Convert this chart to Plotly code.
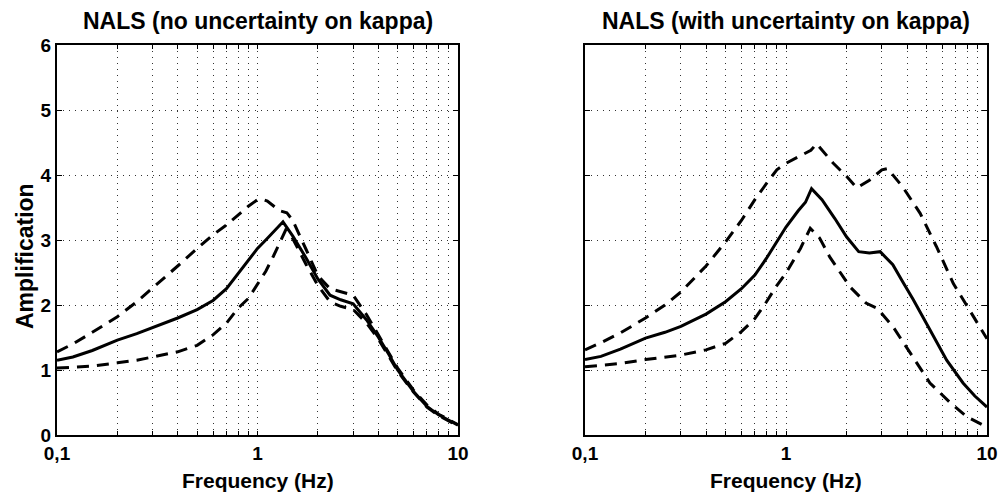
import plotly.graph_objects as go

# ---- data ----
freq_L_mid = [0.1, 0.12, 0.15, 0.2, 0.25, 0.3, 0.4, 0.5, 0.55, 0.6, 0.7, 0.8, 0.9, 1.0, 1.1, 1.2, 1.34, 1.5, 1.75, 2.0, 2.3, 2.6, 3.0, 3.5, 4.0, 4.5, 5.0, 6.0, 7.0, 8.0, 9.0, 10.0]
amp_L_mid = [1.15, 1.20, 1.30, 1.46, 1.56, 1.65, 1.80, 1.93, 2.00, 2.07, 2.25, 2.48, 2.70, 2.87, 3.00, 3.12, 3.28, 3.06, 2.72, 2.40, 2.15, 2.08, 2.02, 1.77, 1.51, 1.25, 1.00, 0.67, 0.44, 0.31, 0.22, 0.15]

freq_L_up = [0.1, 0.12, 0.15, 0.2, 0.25, 0.3, 0.4, 0.5, 0.6, 0.7, 0.8, 0.9, 1.0, 1.05, 1.12, 1.2, 1.29, 1.4, 1.5, 1.75, 2.0, 2.3, 2.6, 3.0, 3.5, 4.0, 4.5, 5.0, 6.0, 7.0, 8.0, 9.0, 10.0]
amp_L_up = [1.28, 1.40, 1.58, 1.82, 2.05, 2.26, 2.60, 2.87, 3.08, 3.23, 3.38, 3.52, 3.62, 3.63, 3.60, 3.52, 3.45, 3.42, 3.30, 2.85, 2.45, 2.25, 2.20, 2.15, 1.85, 1.55, 1.28, 1.03, 0.69, 0.46, 0.32, 0.23, 0.16]

freq_L_lo = [0.1, 0.12, 0.15, 0.2, 0.25, 0.3, 0.4, 0.5, 0.6, 0.7, 0.8, 0.9, 1.0, 1.1, 1.2, 1.3, 1.38, 1.5, 1.75, 2.0, 2.3, 2.6, 3.0, 3.5, 4.0, 4.5, 5.0, 6.0, 7.0, 8.0, 9.0, 10.0]
amp_L_lo = [1.03, 1.04, 1.06, 1.11, 1.15, 1.20, 1.28, 1.38, 1.54, 1.72, 1.95, 2.10, 2.32, 2.52, 2.75, 2.98, 3.15, 3.02, 2.62, 2.30, 2.05, 1.98, 1.93, 1.72, 1.48, 1.22, 0.98, 0.66, 0.43, 0.30, 0.21, 0.14]

freq_R_mid = [0.1, 0.12, 0.15, 0.2, 0.25, 0.3, 0.4, 0.5, 0.6, 0.7, 0.8, 0.9, 1.0, 1.15, 1.25, 1.34, 1.51, 1.75, 2.0, 2.3, 2.6, 2.94, 3.4, 3.8, 4.3, 5.2, 6.3, 7.6, 8.7, 10.0]
amp_R_mid = [1.16, 1.21, 1.32, 1.49, 1.58, 1.67, 1.86, 2.05, 2.25, 2.46, 2.72, 2.98, 3.20, 3.45, 3.58, 3.79, 3.62, 3.33, 3.05, 2.82, 2.80, 2.82, 2.62, 2.36, 2.08, 1.62, 1.15, 0.80, 0.60, 0.43]

freq_R_up = [0.1, 0.12, 0.15, 0.2, 0.25, 0.3, 0.4, 0.5, 0.6, 0.7, 0.8, 0.9, 1.0, 1.2, 1.33, 1.42, 1.72, 2.0, 2.25, 2.6, 3.0, 3.2, 3.8, 4.65, 5.6, 6.8, 8.4, 10.0]
amp_R_up = [1.31, 1.42, 1.57, 1.80, 2.00, 2.20, 2.60, 2.97, 3.30, 3.62, 3.87, 4.08, 4.18, 4.30, 4.38, 4.48, 4.18, 3.98, 3.80, 3.92, 4.08, 4.10, 3.82, 3.41, 2.90, 2.33, 1.87, 1.48]

freq_R_lo = [0.1, 0.12, 0.15, 0.2, 0.25, 0.3, 0.4, 0.5, 0.6, 0.7, 0.8, 0.9, 1.0, 1.18, 1.32, 1.47, 1.65, 2.08, 2.5, 2.84, 3.4, 4.3, 5.2, 6.6, 7.95, 10.0]
amp_R_lo = [1.05, 1.07, 1.10, 1.16, 1.20, 1.23, 1.31, 1.41, 1.59, 1.79, 2.05, 2.30, 2.49, 2.87, 3.18, 3.03, 2.74, 2.28, 2.03, 1.95, 1.67, 1.20, 0.80, 0.49, 0.28, 0.12]

titles = ["NALS (no uncertainty on kappa)", "NALS (with uncertainty on kappa)"]
x_title = "Frequency (Hz)"
y_title = "Amplification"
x_tickvals = [0.1, 0.2, 0.3, 0.4, 0.5, 0.6, 0.7, 0.8, 0.9, 1, 2, 3, 4, 5, 6, 7, 8, 9, 10]
x_ticktext = ["0,1", "", "", "", "", "", "", "", "", "1", "", "", "", "", "", "", "", "", "10"]
y_tickvals = [0, 1, 2, 3, 4, 5, 6]

FONT = "Liberation Sans, Arial, sans-serif"
W, H = 1001, 495
L1, R1, L2, R2, TOP, BOT = 57, 458, 585, 987, 45, 435

fig = go.Figure()
DASH = "12px,8px"
LW = 3


def add(xs, ys, axis, dash):
    fig.add_trace(go.Scatter(x=xs, y=ys, mode="lines", xaxis="x" + axis, yaxis="y" + axis,
                             line=dict(color="black", width=LW, dash=dash), showlegend=False,
                             hoverinfo="skip"))


add(freq_L_up, amp_L_up, "", DASH)
add(freq_L_lo, amp_L_lo, "", DASH)
add(freq_L_mid, amp_L_mid, "", "solid")
add(freq_R_up, amp_R_up, "2", DASH)
add(freq_R_lo, amp_R_lo, "2", DASH)
add(freq_R_mid, amp_R_mid, "2", "solid")

ydom = [1 - BOT / H, 1 - TOP / H]
GRID = dict(showgrid=True, gridcolor="#333", griddash="1px,5px", gridwidth=1)

common_x = dict(type="log", range=[-1, 1], tickvals=x_tickvals, ticktext=x_ticktext,
                showline=True, linecolor="black", linewidth=2, mirror="allticks",
                ticks="inside", ticklen=4, tickcolor="black", zeroline=False, automargin=False,
                tickfont=dict(family=FONT, size=19, color="black", weight="bold"), **GRID)
common_y = dict(range=[0, 6], tickvals=y_tickvals,
                showline=True, linecolor="black", linewidth=2, mirror="allticks",
                ticks="inside", ticklen=5, tickcolor="black", zeroline=False, automargin=False,
                tickfont=dict(family=FONT, size=19, color="black", weight="bold"), **GRID)

ann = []
for i, (l, r) in enumerate([(L1, R1), (L2, R2)]):
    ann.append(dict(text="<b>" + titles[i] + "</b>", x=(l + r) / 2 / W, y=1 - 21 / H, xref="paper", yref="paper",
                    showarrow=False, xanchor="center", yanchor="middle",
                    font=dict(family=FONT, size=23, color="black")))
    ann.append(dict(text="<b>" + x_title + "</b>", x=(l + r) / 2 / W, y=1 - 480 / H, xref="paper", yref="paper",
                    showarrow=False, xanchor="center", yanchor="middle",
                    font=dict(family=FONT, size=21, color="black")))
ann.append(dict(text="<b>" + y_title + "</b>", x=25 / W, y=1 - 256 / H, xref="paper", yref="paper",
                showarrow=False, xanchor="center", yanchor="middle", textangle=-90,
                font=dict(family=FONT, size=23, color="black")))

fig.update_layout(
    width=W, height=H, margin=dict(l=0, r=0, t=0, b=0),
    paper_bgcolor="white", plot_bgcolor="white",
    xaxis=dict(domain=[L1 / W, R1 / W], anchor="y", **common_x),
    xaxis2=dict(domain=[L2 / W, R2 / W], anchor="y2", **common_x),
    yaxis=dict(domain=ydom, anchor="x", **common_y),
    yaxis2=dict(domain=ydom, anchor="x2", showticklabels=False, **common_y),
    annotations=ann,
)

fig.write_html("out.html", config={"displayModeBar": False},
               post_script="document.body.style.margin='0';document.body.style.overflow='hidden';")
